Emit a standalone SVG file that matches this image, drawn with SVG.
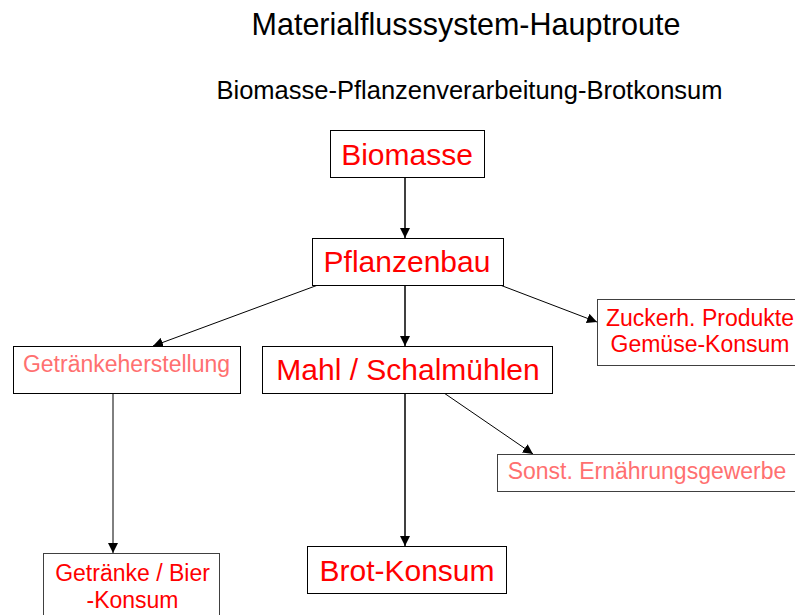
<svg xmlns="http://www.w3.org/2000/svg" width="795" height="615" viewBox="0 0 795 615">
<style>
text{font-family:"Liberation Sans",Arial,sans-serif;text-anchor:middle}
.box{fill:#fff;stroke:#000;stroke-width:1}
.box2{fill:#fff;stroke:#404040;stroke-width:1}
.big{font-size:30px;fill:#ff0000}
.mid{font-size:23px;fill:#ff0000}
.pale{font-size:23px;fill:#ff7070}
.c{stroke:#000;fill:none}
</style>
<defs>
<marker id="ah" viewBox="0 0 10 10" refX="10" refY="5" markerWidth="10" markerHeight="10" markerUnits="userSpaceOnUse" orient="auto"><path d="M0,0L10,5L0,10z" fill="#000"/></marker>
</defs>
<rect width="795" height="615" fill="#fff"/>
<text x="466" y="35" font-size="30.5" fill="#000">Materialflusssystem-Hauptroute</text>
<text x="469.5" y="99" font-size="25.5" fill="#000">Biomasse-Pflanzenverarbeitung-Brotkonsum</text>
<g id="connectors">
<line class="c" stroke-width="1.5" x1="405" y1="177" x2="405" y2="238" marker-end="url(#ah)"/>
<line class="c" stroke-width="1" x1="318" y1="285" x2="153" y2="346" marker-end="url(#ah)"/>
<line class="c" stroke-width="1.5" x1="405" y1="285" x2="405" y2="346" marker-end="url(#ah)"/>
<line class="c" stroke-width="1" x1="500" y1="285" x2="597" y2="322" marker-end="url(#ah)"/>
<line class="c" stroke-width="1" x1="113" y1="393" x2="113" y2="553" marker-end="url(#ah)"/>
<line class="c" stroke-width="1" x1="444" y1="393" x2="533" y2="454" marker-end="url(#ah)"/>
<line class="c" stroke-width="1.5" x1="405" y1="393" x2="405" y2="546" marker-end="url(#ah)"/>
</g>
<g id="biomasse"><rect class="box" x="330.5" y="130.5" width="154" height="47"/><text class="big" x="407" y="165">Biomasse</text></g>
<g id="pflanzenbau"><rect class="box" x="312.5" y="238.5" width="191" height="47"/><text class="big" x="407" y="272">Pflanzenbau</text></g>
<g id="getraenkeherstellung"><rect class="box" x="13.5" y="346.5" width="227" height="47"/><text class="pale" x="126.5" y="372">Getränkeherstellung</text></g>
<g id="mahl"><rect class="box" x="262.5" y="346.5" width="290" height="47"/><text class="big" x="408" y="380">Mahl / Schalmühlen</text></g>
<g id="zuckerh"><rect class="box2" x="597.5" y="299.5" width="205" height="66"/><text class="mid" x="700" y="326">Zuckerh. Produkte</text><text class="mid" x="700" y="352">Gemüse-Konsum</text></g>
<g id="sonst"><rect class="box2" x="497.5" y="454.5" width="305" height="37"/><text class="pale" x="647" y="479" font-size="22">Sonst. Ernährungsgewerbe</text></g>
<g id="brot"><rect class="box" x="307.5" y="546.5" width="199" height="47"/><text class="big" x="407" y="581">Brot-Konsum</text></g>
<g id="getraenke-bier"><rect class="box2" x="43.5" y="553.5" width="176" height="70"/><text class="mid" x="132.5" y="581">Getränke / Bier</text><text class="mid" x="132.5" y="608">-Konsum</text></g>
</svg>
